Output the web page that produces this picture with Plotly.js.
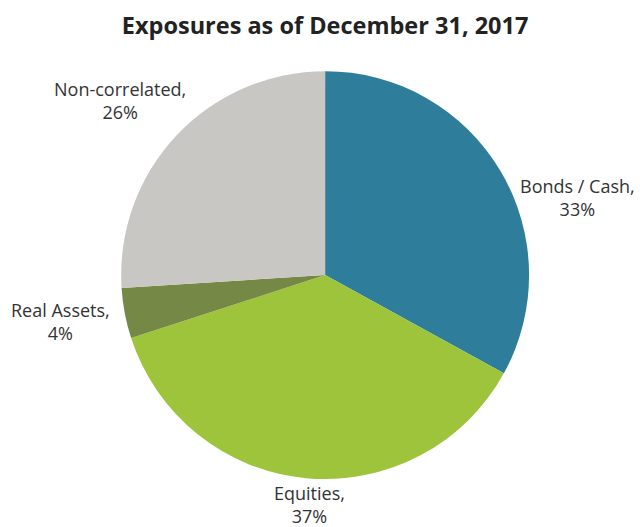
<!DOCTYPE html>
<html>
<head>
<meta charset="utf-8">
<script src="https://cdn.plot.ly/plotly-3.0.1.min.js"></script>
<style>html,body{margin:0;padding:0;background:#fff}#chart{width:640px;height:527px}</style>
</head>
<body>
<div id="chart"></div>
<script>
const labels = ["Bonds / Cash", "Equities", "Real Assets", "Non-correlated"];
const values = [33, 37, 4, 26];
const colors = ["#2e7d9b", "#9dc43b", "#768845", "#c8c7c3"];
const titleText = "Exposures as of December 31, 2017";

// label placement (paper coordinates), not data
const labelX = [0.9016, 0.484, 0.0953, 0.1875];
const labelY = [0.626, 0.043, 0.389, 0.810];

const total = values.reduce((a, b) => a + b, 0);

const trace = {
  type: "pie",
  labels: labels,
  values: values,
  sort: false,
  direction: "clockwise",
  rotation: 0,
  marker: {colors: colors, line: {width: 0}},
  textinfo: "none",
  hoverinfo: "none",
  showlegend: false,
  domain: {x: [0.189, 0.827], y: [0.091, 0.865]}
};

const annotations = labels.map((lab, i) => ({
  xref: "paper", yref: "paper",
  x: labelX[i], y: labelY[i],
  xanchor: "center", yanchor: "middle",
  showarrow: false,
  align: "center",
  text: lab + ",<br>" + Math.round(values[i] / total * 100) + "%",
  font: {family: "Open Sans, sans-serif", size: 18, color: "#333333"}
}));

const layout = {
  width: 640, height: 527,
  margin: {l: 0, r: 0, t: 0, b: 0},
  paper_bgcolor: "#ffffff",
  title: {
    text: "<b>" + titleText + "</b>",
    font: {family: "Open Sans, sans-serif", size: 23.5, color: "#222222"},
    x: 0.508, xanchor: "center", y: 0.952, yanchor: "middle"
  },
  annotations: annotations,
  showlegend: false
};

Plotly.newPlot("chart", [trace], layout, {staticPlot: true});
</script>
</body>
</html>
